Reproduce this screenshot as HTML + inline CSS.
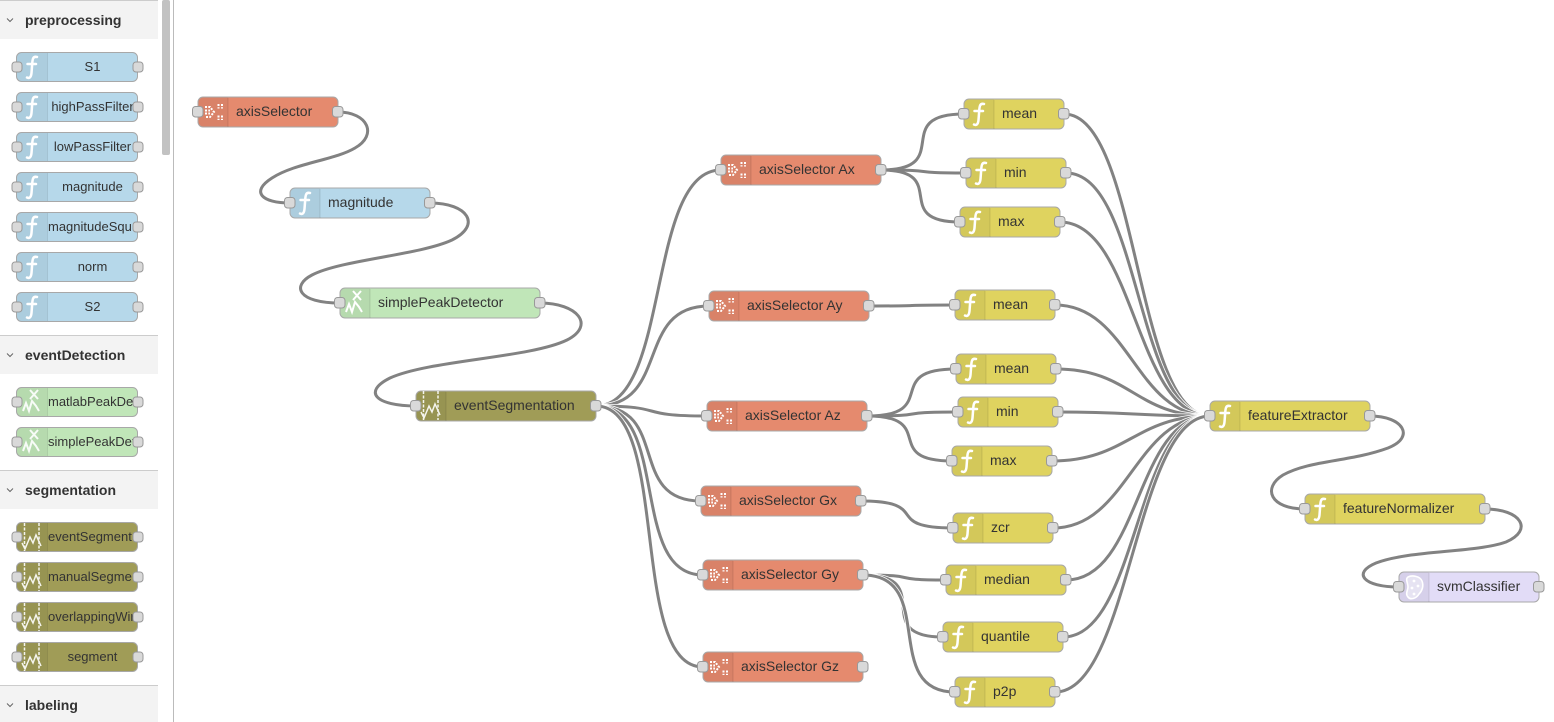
<!DOCTYPE html>
<html><head><meta charset="utf-8"><style>
html,body{margin:0;padding:0;background:#fff;width:1554px;height:722px;overflow:hidden}
svg{display:block;filter:blur(.3px)}
text{font-family:"Liberation Sans",sans-serif;font-size:14px;fill:#333}
.w0{fill:none;stroke:#fff;stroke-width:4.6}
.w{fill:none;stroke:#828282;stroke-width:3}
.n{stroke:#a8a8a8;stroke-width:1}
.d{fill:#000;fill-opacity:.05;stroke:none}
.l{stroke:#000;stroke-opacity:.1;stroke-width:1}
.p{fill:#d9d9d9;stroke:#999;stroke-width:1}
.f{fill:none;stroke:#fff;stroke-width:2.5;stroke-linecap:round}
.i{fill:none;stroke:#fff;stroke-width:2}
.h{font-weight:bold}
.pl{font-size:13px}
</style></head><body>
<svg width="1554" height="722" viewBox="0 0 1554 722" xmlns="http://www.w3.org/2000/svg">
<defs><clipPath id="pc"><rect x="47" y="0" width="85.500" height="722"/></clipPath></defs>

<!-- palette -->
<rect x="0" y="0" width="158" height="39" fill="#f3f3f3"/><rect x="0" y="0" width="158" height="1" fill="#ccc"/>
<rect x="0" y="335" width="158" height="39" fill="#f3f3f3"/><rect x="0" y="335" width="158" height="1" fill="#ccc"/>
<rect x="0" y="470" width="158" height="39" fill="#f3f3f3"/><rect x="0" y="470" width="158" height="1" fill="#ccc"/>
<rect x="0" y="685" width="158" height="37" fill="#f3f3f3"/><rect x="0" y="685" width="158" height="1" fill="#ccc"/>
<rect x="162" y="0" width="8" height="155" rx="2" fill="#c2c2c2"/>
<rect x="173" y="0" width="1" height="722" fill="#bbb"/>
<path d="M7 18.500l3 3 3-3M7 353.500l3 3 3-3M7 488.500l3 3 3-3M7 703.500l3 3 3-3" fill="none" stroke="#666" stroke-width="1"/>
<text class="h" x="25" y="25">preprocessing</text>
<text class="h" x="25" y="360">eventDetection</text>
<text class="h" x="25" y="495">segmentation</text>
<text class="h" x="25" y="710">labeling</text>

<!-- palette node bodies -->
<g fill="#b6d8ea">
<rect class="n" x="16.500" y="52.500" width="121" height="29" rx="5"/>
<rect class="n" x="16.500" y="92.500" width="121" height="29" rx="5"/>
<rect class="n" x="16.500" y="132.500" width="121" height="29" rx="5"/>
<rect class="n" x="16.500" y="172.500" width="121" height="29" rx="5"/>
<rect class="n" x="16.500" y="212.500" width="121" height="29" rx="5"/>
<rect class="n" x="16.500" y="252.500" width="121" height="29" rx="5"/>
<rect class="n" x="16.500" y="292.500" width="121" height="29" rx="5"/>
</g>
<g fill="#c0e6b8">
<rect class="n" x="16.500" y="387.500" width="121" height="29" rx="5"/>
<rect class="n" x="16.500" y="427.500" width="121" height="29" rx="5"/>
</g>
<g fill="#a09c57">
<rect class="n" x="16.500" y="522.500" width="121" height="29" rx="5"/>
<rect class="n" x="16.500" y="562.500" width="121" height="29" rx="5"/>
<rect class="n" x="16.500" y="602.500" width="121" height="29" rx="5"/>
<rect class="n" x="16.500" y="642.500" width="121" height="29" rx="5"/>
</g>
<g>
<path class="d" d="M47 53h-26a4 4 0 0 0-4 4v20a4 4 0 0 0 4 4h26zM47 93h-26a4 4 0 0 0-4 4v20a4 4 0 0 0 4 4h26zM47 133h-26a4 4 0 0 0-4 4v20a4 4 0 0 0 4 4h26zM47 173h-26a4 4 0 0 0-4 4v20a4 4 0 0 0 4 4h26zM47 213h-26a4 4 0 0 0-4 4v20a4 4 0 0 0 4 4h26zM47 253h-26a4 4 0 0 0-4 4v20a4 4 0 0 0 4 4h26zM47 293h-26a4 4 0 0 0-4 4v20a4 4 0 0 0 4 4h26zM47 388h-26a4 4 0 0 0-4 4v20a4 4 0 0 0 4 4h26zM47 428h-26a4 4 0 0 0-4 4v20a4 4 0 0 0 4 4h26zM47 523h-26a4 4 0 0 0-4 4v20a4 4 0 0 0 4 4h26zM47 563h-26a4 4 0 0 0-4 4v20a4 4 0 0 0 4 4h26zM47 603h-26a4 4 0 0 0-4 4v20a4 4 0 0 0 4 4h26zM47 643h-26a4 4 0 0 0-4 4v20a4 4 0 0 0 4 4h26z"/>
</g>
<path class="l" d="M47.500 53v28M47.500 93v28M47.500 133v28M47.500 173v28M47.500 213v28M47.500 253v28M47.500 293v28M47.500 388v28M47.500 428v28M47.500 523v28M47.500 563v28M47.500 603v28M47.500 643v28" fill="none"/>
<!-- palette icons -->
<g class="f">
<path transform="translate(17,67)" d="M20-10C16-11 15.500-8 15.200-3L14.500 6C14 11 12 11.500 10 10.500M10.500-3H19"/>
<path transform="translate(17,107)" d="M20-10C16-11 15.500-8 15.200-3L14.500 6C14 11 12 11.500 10 10.500M10.500-3H19"/>
<path transform="translate(17,147)" d="M20-10C16-11 15.500-8 15.200-3L14.500 6C14 11 12 11.500 10 10.500M10.500-3H19"/>
<path transform="translate(17,187)" d="M20-10C16-11 15.500-8 15.200-3L14.500 6C14 11 12 11.500 10 10.500M10.500-3H19"/>
<path transform="translate(17,227)" d="M20-10C16-11 15.500-8 15.200-3L14.500 6C14 11 12 11.500 10 10.500M10.500-3H19"/>
<path transform="translate(17,267)" d="M20-10C16-11 15.500-8 15.200-3L14.500 6C14 11 12 11.500 10 10.500M10.500-3H19"/>
<path transform="translate(17,307)" d="M20-10C16-11 15.500-8 15.200-3L14.500 6C14 11 12 11.500 10 10.500M10.500-3H19"/>
</g>
<g class="i" opacity=".9">
<path transform="translate(17,402)" d="M6 9L9 1 12 9 15-1 19 4 22 9M13-12L21-3M21-12L13-3"/>
<path transform="translate(17,442)" d="M6 9L9 1 12 9 15-1 19 4 22 9M13-12L21-3M21-12L13-3"/>
</g>
<g fill="none" stroke="#fff" stroke-width="1.500" opacity=".9">
<path transform="translate(17,537)" stroke-dasharray="3 1.500" d="M7.500-14V14M22-14V14"/>
<path transform="translate(17,537)" d="M5 6L8 12 13 0 16 6 19-2 24 9"/>
<path transform="translate(17,577)" stroke-dasharray="3 1.500" d="M7.500-14V14M22-14V14"/>
<path transform="translate(17,577)" d="M5 6L8 12 13 0 16 6 19-2 24 9"/>
<path transform="translate(17,617)" stroke-dasharray="3 1.500" d="M7.500-14V14M22-14V14"/>
<path transform="translate(17,617)" d="M5 6L8 12 13 0 16 6 19-2 24 9"/>
<path transform="translate(17,657)" stroke-dasharray="3 1.500" d="M7.500-14V14M22-14V14"/>
<path transform="translate(17,657)" d="M5 6L8 12 13 0 16 6 19-2 24 9"/>
</g>
<g clip-path="url(#pc)" class="pl">
<text class="pl" x="92.500" y="71" text-anchor="middle">S1</text>
<text class="pl" x="92.500" y="111" text-anchor="middle">highPassFilter</text>
<text class="pl" x="92.500" y="151" text-anchor="middle">lowPassFilter</text>
<text class="pl" x="92.500" y="191" text-anchor="middle">magnitude</text>
<text class="pl" x="48" y="231">magnitudeSquared</text>
<text class="pl" x="92.500" y="271" text-anchor="middle">norm</text>
<text class="pl" x="92.500" y="311" text-anchor="middle">S2</text>
<text class="pl" x="48" y="406">matlabPeakDetector</text>
<text class="pl" x="48" y="446">simplePeakDetector</text>
<text class="pl" x="48" y="541">eventSegmentation</text>
<text class="pl" x="48" y="581">manualSegmentation</text>
<text class="pl" x="48" y="621">overlappingWindows</text>
<text class="pl" x="92.500" y="661" text-anchor="middle">segment</text>
</g>
<g class="p">
<rect x="12" y="62" width="10" height="10" rx="3"/><rect x="133" y="62" width="10" height="10" rx="3"/>
<rect x="12" y="102" width="10" height="10" rx="3"/><rect x="133" y="102" width="10" height="10" rx="3"/>
<rect x="12" y="142" width="10" height="10" rx="3"/><rect x="133" y="142" width="10" height="10" rx="3"/>
<rect x="12" y="182" width="10" height="10" rx="3"/><rect x="133" y="182" width="10" height="10" rx="3"/>
<rect x="12" y="222" width="10" height="10" rx="3"/><rect x="133" y="222" width="10" height="10" rx="3"/>
<rect x="12" y="262" width="10" height="10" rx="3"/><rect x="133" y="262" width="10" height="10" rx="3"/>
<rect x="12" y="302" width="10" height="10" rx="3"/><rect x="133" y="302" width="10" height="10" rx="3"/>
<rect x="12" y="397" width="10" height="10" rx="3"/><rect x="133" y="397" width="10" height="10" rx="3"/>
<rect x="12" y="437" width="10" height="10" rx="3"/><rect x="133" y="437" width="10" height="10" rx="3"/>
<rect x="12" y="532" width="10" height="10" rx="3"/><rect x="133" y="532" width="10" height="10" rx="3"/>
<rect x="12" y="572" width="10" height="10" rx="3"/><rect x="133" y="572" width="10" height="10" rx="3"/>
<rect x="12" y="612" width="10" height="10" rx="3"/><rect x="133" y="612" width="10" height="10" rx="3"/>
<rect x="12" y="652" width="10" height="10" rx="3"/><rect x="133" y="652" width="10" height="10" rx="3"/>
</g>

<!-- wires -->
<path class="w" d="M338 112C368 112 378 135 355 148C335 160 295 163 272 178C250 192 262 203 290 203"/>
<path class="w" d="M430 203C468 203 482 225 452 240C420 255 340 260 312 275C291 286 298 303 340 303"/>
<path class="w" d="M540 303C577 303 596 325 567 340C530 358 430 360 390 378C362 392 376 406 416 406"/>
<path class="w" d="M1370 416C1403 416 1416 437 1388 448C1350 462 1310 460 1283 475C1262 488 1270 509 1305 509"/>
<path class="w" d="M1485 509C1521 509 1534 530 1506 542C1475 553 1410 550 1376 563C1352 573 1363 587 1399 587"/>

<path class="w0" d="M596 406C671 406 646 170 721 170"/><path class="w" d="M596 406C671 406 646 170 721 170"/>
<path class="w0" d="M596 406C671 406 634 306 709 306"/><path class="w" d="M596 406C671 406 634 306 709 306"/>
<path class="w0" d="M596 406C671 406 632 416 707 416"/><path class="w" d="M596 406C671 406 632 416 707 416"/>
<path class="w0" d="M596 406C671 406 626 501 701 501"/><path class="w" d="M596 406C671 406 626 501 701 501"/>
<path class="w0" d="M596 406C671 406 628 575 703 575"/><path class="w" d="M596 406C671 406 628 575 703 575"/>
<path class="w0" d="M596 406C671 406 628 667 703 667"/><path class="w" d="M596 406C671 406 628 667 703 667"/>

<path class="w" d="M881 170C956 170 889 114 964 114"/>
<path class="w" d="M881 170C945 170 902 173 966 173"/>
<path class="w" d="M881 170C952 170 889 222 960 222"/>
<path class="w" d="M869 306C933.500 306 890.500 305 955 305"/>
<path class="w" d="M867 416C942 416 881 369 956 369"/>
<path class="w" d="M867 416C935 416 890 412 958 412"/>
<path class="w" d="M867 416C939 416 880 461 952 461"/>
<path class="w" d="M861 501C933 501 881 528 953 528"/>
<path class="w" d="M863 575C925 575 884 580 946 580"/>
<path class="w0" d="M863 575C938 575 868 637 943 637"/><path class="w" d="M863 575C938 575 868 637 943 637"/>
<path class="w0" d="M863 575C938 575 880 692 955 692"/><path class="w" d="M863 575C938 575 880 692 955 692"/>

<path class="w0" d="M1064 114C1139 114 1135 416 1210 416"/><path class="w" d="M1064 114C1139 114 1135 416 1210 416"/>
<path class="w0" d="M1066 173C1141 173 1135 416 1210 416"/><path class="w" d="M1066 173C1141 173 1135 416 1210 416"/>
<path class="w0" d="M1060 222C1135 222 1135 416 1210 416"/><path class="w" d="M1060 222C1135 222 1135 416 1210 416"/>
<path class="w0" d="M1055 305C1130 305 1135 416 1210 416"/><path class="w" d="M1055 305C1130 305 1135 416 1210 416"/>
<path class="w0" d="M1056 369C1131 369 1135 416 1210 416"/><path class="w" d="M1056 369C1131 369 1135 416 1210 416"/>
<path class="w0" d="M1058 412C1133 412 1135 416 1210 416"/><path class="w" d="M1058 412C1133 412 1135 416 1210 416"/>
<path class="w0" d="M1052 461C1127 461 1135 416 1210 416"/><path class="w" d="M1052 461C1127 461 1135 416 1210 416"/>
<path class="w0" d="M1053 528C1128 528 1135 416 1210 416"/><path class="w" d="M1053 528C1128 528 1135 416 1210 416"/>
<path class="w0" d="M1066 580C1141 580 1135 416 1210 416"/><path class="w" d="M1066 580C1141 580 1135 416 1210 416"/>
<path class="w0" d="M1063 637C1138 637 1135 416 1210 416"/><path class="w" d="M1063 637C1138 637 1135 416 1210 416"/>
<path class="w0" d="M1055 692C1130 692 1135 416 1210 416"/><path class="w" d="M1055 692C1130 692 1135 416 1210 416"/>

<!-- flow nodes -->
<g fill="#e58a6e">
<rect class="n" x="198" y="97" width="140" height="30" rx="5"/>
<rect class="n" x="721" y="155" width="160" height="30" rx="5"/>
<rect class="n" x="709" y="291" width="160" height="30" rx="5"/>
<rect class="n" x="707" y="401" width="160" height="30" rx="5"/>
<rect class="n" x="701" y="486" width="160" height="30" rx="5"/>
<rect class="n" x="703" y="560" width="160" height="30" rx="5"/>
<rect class="n" x="703" y="652" width="160" height="30" rx="5"/>
</g>
<g fill="#b6d8ea"><rect class="n" x="290" y="188" width="140" height="30" rx="5"/></g>
<g fill="#c0e6b8"><rect class="n" x="340" y="288" width="200" height="30" rx="5"/></g>
<g fill="#a09c57"><rect class="n" x="416" y="391" width="180" height="30" rx="5"/></g>
<g fill="#dfd35f">
<rect class="n" x="964" y="99" width="100" height="30" rx="5"/>
<rect class="n" x="966" y="158" width="100" height="30" rx="5"/>
<rect class="n" x="960" y="207" width="100" height="30" rx="5"/>
<rect class="n" x="955" y="290" width="100" height="30" rx="5"/>
<rect class="n" x="956" y="354" width="100" height="30" rx="5"/>
<rect class="n" x="958" y="397" width="100" height="30" rx="5"/>
<rect class="n" x="952" y="446" width="100" height="30" rx="5"/>
<rect class="n" x="953" y="513" width="100" height="30" rx="5"/>
<rect class="n" x="946" y="565" width="120" height="30" rx="5"/>
<rect class="n" x="943" y="622" width="120" height="30" rx="5"/>
<rect class="n" x="955" y="677" width="100" height="30" rx="5"/>
<rect class="n" x="1210" y="401" width="160" height="30" rx="5"/>
<rect class="n" x="1305" y="494" width="180" height="30" rx="5"/>
</g>
<g fill="#e2dcf7"><rect class="n" x="1399" y="572" width="140" height="30" rx="5"/></g>

<!-- icon panels -->
<path class="d" d="M228 97.500h-25a4.500 4.500 0 0 0-4.500 4.500v20a4.500 4.500 0 0 0 4.500 4.500h25zM751 155.500h-25a4.500 4.500 0 0 0-4.500 4.500v20a4.500 4.500 0 0 0 4.500 4.500h25zM739 291.500h-25a4.500 4.500 0 0 0-4.500 4.500v20a4.500 4.500 0 0 0 4.500 4.500h25zM737 401.500h-25a4.500 4.500 0 0 0-4.500 4.500v20a4.500 4.500 0 0 0 4.500 4.500h25zM731 486.500h-25a4.500 4.500 0 0 0-4.500 4.500v20a4.500 4.500 0 0 0 4.500 4.500h25zM733 560.500h-25a4.500 4.500 0 0 0-4.500 4.500v20a4.500 4.500 0 0 0 4.500 4.500h25zM733 652.500h-25a4.500 4.500 0 0 0-4.500 4.500v20a4.500 4.500 0 0 0 4.500 4.500h25zM320 188.500h-25a4.500 4.500 0 0 0-4.500 4.500v20a4.500 4.500 0 0 0 4.500 4.500h25zM370 288.500h-25a4.500 4.500 0 0 0-4.500 4.500v20a4.500 4.500 0 0 0 4.500 4.500h25zM446 391.500h-25a4.500 4.500 0 0 0-4.500 4.500v20a4.500 4.500 0 0 0 4.500 4.500h25zM994 99.500h-25a4.500 4.500 0 0 0-4.500 4.500v20a4.500 4.500 0 0 0 4.500 4.500h25zM996 158.500h-25a4.500 4.500 0 0 0-4.500 4.500v20a4.500 4.500 0 0 0 4.500 4.500h25zM990 207.500h-25a4.500 4.500 0 0 0-4.500 4.500v20a4.500 4.500 0 0 0 4.500 4.500h25zM985 290.500h-25a4.500 4.500 0 0 0-4.500 4.500v20a4.500 4.500 0 0 0 4.500 4.500h25zM986 354.500h-25a4.500 4.500 0 0 0-4.500 4.500v20a4.500 4.500 0 0 0 4.500 4.500h25zM988 397.500h-25a4.500 4.500 0 0 0-4.500 4.500v20a4.500 4.500 0 0 0 4.500 4.500h25zM982 446.500h-25a4.500 4.500 0 0 0-4.500 4.500v20a4.500 4.500 0 0 0 4.500 4.500h25zM983 513.500h-25a4.500 4.500 0 0 0-4.500 4.500v20a4.500 4.500 0 0 0 4.500 4.500h25zM976 565.500h-25a4.500 4.500 0 0 0-4.500 4.500v20a4.500 4.500 0 0 0 4.500 4.500h25zM973 622.500h-25a4.500 4.500 0 0 0-4.500 4.500v20a4.500 4.500 0 0 0 4.500 4.500h25zM985 677.500h-25a4.500 4.500 0 0 0-4.500 4.500v20a4.500 4.500 0 0 0 4.500 4.500h25zM1240 401.500h-25a4.500 4.500 0 0 0-4.500 4.500v20a4.500 4.500 0 0 0 4.500 4.500h25zM1335 494.500h-25a4.500 4.500 0 0 0-4.500 4.500v20a4.500 4.500 0 0 0 4.500 4.500h25zM1429 572.500h-25a4.500 4.500 0 0 0-4.500 4.500v20a4.500 4.500 0 0 0 4.500 4.500h25z"/>
<path class="l" fill="none" d="M228 98v29M751 156v29M739 292v29M737 402v29M731 487v29M733 561v29M733 653v29M320 189v29M370 289v29M446 392v29M994 100v29M996 159v29M990 208v29M985 291v29M986 355v29M988 398v29M982 447v29M983 514v29M976 566v29M973 623v29M985 678v29M1240 402v29M1335 495v29M1429 573v29"/>

<!-- function icons -->
<g class="f">
<path transform="translate(290,203)" d="M20-10C16-11 15.500-8 15.200-3L14.500 6C14 11 12 11.500 10 10.500M10.500-3H19"/>
<path transform="translate(964,114)" d="M20-10C16-11 15.500-8 15.200-3L14.500 6C14 11 12 11.500 10 10.500M10.500-3H19"/>
<path transform="translate(966,173)" d="M20-10C16-11 15.500-8 15.200-3L14.500 6C14 11 12 11.500 10 10.500M10.500-3H19"/>
<path transform="translate(960,222)" d="M20-10C16-11 15.500-8 15.200-3L14.500 6C14 11 12 11.500 10 10.500M10.500-3H19"/>
<path transform="translate(955,305)" d="M20-10C16-11 15.500-8 15.200-3L14.500 6C14 11 12 11.500 10 10.500M10.500-3H19"/>
<path transform="translate(956,369)" d="M20-10C16-11 15.500-8 15.200-3L14.500 6C14 11 12 11.500 10 10.500M10.500-3H19"/>
<path transform="translate(958,412)" d="M20-10C16-11 15.500-8 15.200-3L14.500 6C14 11 12 11.500 10 10.500M10.500-3H19"/>
<path transform="translate(952,461)" d="M20-10C16-11 15.500-8 15.200-3L14.500 6C14 11 12 11.500 10 10.500M10.500-3H19"/>
<path transform="translate(953,528)" d="M20-10C16-11 15.500-8 15.200-3L14.500 6C14 11 12 11.500 10 10.500M10.500-3H19"/>
<path transform="translate(946,580)" d="M20-10C16-11 15.500-8 15.200-3L14.500 6C14 11 12 11.500 10 10.500M10.500-3H19"/>
<path transform="translate(943,637)" d="M20-10C16-11 15.500-8 15.200-3L14.500 6C14 11 12 11.500 10 10.500M10.500-3H19"/>
<path transform="translate(955,692)" d="M20-10C16-11 15.500-8 15.200-3L14.500 6C14 11 12 11.500 10 10.500M10.500-3H19"/>
<path transform="translate(1210,416)" d="M20-10C16-11 15.500-8 15.200-3L14.500 6C14 11 12 11.500 10 10.500M10.500-3H19"/>
<path transform="translate(1305,509)" d="M20-10C16-11 15.500-8 15.200-3L14.500 6C14 11 12 11.500 10 10.500M10.500-3H19"/>
</g>
<!-- selector icons -->
<g fill="none" stroke="#fff" stroke-width="2" stroke-dasharray="2 1.300">
<path transform="translate(198,112)" d="M7-5H12L16 0 12 5H7M7-1.500H12M7 1.500H12M20.500-8V-3.500M20.500 3.500V8M24-8V-3.500M24 3.500V8"/>
<path transform="translate(721,170)" d="M7-5H12L16 0 12 5H7M7-1.500H12M7 1.500H12M20.500-8V-3.500M20.500 3.500V8M24-8V-3.500M24 3.500V8"/>
<path transform="translate(709,306)" d="M7-5H12L16 0 12 5H7M7-1.500H12M7 1.500H12M20.500-8V-3.500M20.500 3.500V8M24-8V-3.500M24 3.500V8"/>
<path transform="translate(707,416)" d="M7-5H12L16 0 12 5H7M7-1.500H12M7 1.500H12M20.500-8V-3.500M20.500 3.500V8M24-8V-3.500M24 3.500V8"/>
<path transform="translate(701,501)" d="M7-5H12L16 0 12 5H7M7-1.500H12M7 1.500H12M20.500-8V-3.500M20.500 3.500V8M24-8V-3.500M24 3.500V8"/>
<path transform="translate(703,575)" d="M7-5H12L16 0 12 5H7M7-1.500H12M7 1.500H12M20.500-8V-3.500M20.500 3.500V8M24-8V-3.500M24 3.500V8"/>
<path transform="translate(703,667)" d="M7-5H12L16 0 12 5H7M7-1.500H12M7 1.500H12M20.500-8V-3.500M20.500 3.500V8M24-8V-3.500M24 3.500V8"/>
</g>
<path class="i" transform="translate(340,303)" d="M6 9L9 1 12 9 15-1 19 4 22 9M13-12L21-3M21-12L13-3"/>
<g fill="none" stroke="#fff" stroke-width="1.500" opacity=".9">
<path transform="translate(416,406)" stroke-dasharray="3 1.500" d="M7.500-15V14M22-15V14"/>
<path transform="translate(416,406)" d="M5 6L8 12 13 0 16 6 19-2 24 9"/>
</g>
<g transform="translate(1399,587)">
<path d="M9-10C13-12 21-11 23-6C25-1 23 4 20 7C17 12 11 13 9 10C6 7 9 3 9 0C9-4 6-8 9-10Z" fill="#fff" fill-opacity=".4" stroke="#fff" stroke-width="1.600"/>
<circle cx="15" cy="-6" r="1.400" fill="#fff"/><circle cx="19" cy="-1" r="1.400" fill="#fff"/><circle cx="13" cy="1" r="1.400" fill="#fff"/><circle cx="15" cy="7" r="1.400" fill="#fff"/>
</g>

<!-- labels -->
<text x="236" y="116">axisSelector</text>
<text x="328" y="207">magnitude</text>
<text x="378" y="307">simplePeakDetector</text>
<text x="454" y="410">eventSegmentation</text>
<text x="759" y="174">axisSelector Ax</text>
<text x="747" y="310">axisSelector Ay</text>
<text x="745" y="420">axisSelector Az</text>
<text x="739" y="505">axisSelector Gx</text>
<text x="741" y="579">axisSelector Gy</text>
<text x="741" y="671">axisSelector Gz</text>
<text x="1002" y="118">mean</text>
<text x="1004" y="177">min</text>
<text x="998" y="226">max</text>
<text x="993" y="309">mean</text>
<text x="994" y="373">mean</text>
<text x="996" y="416">min</text>
<text x="990" y="465">max</text>
<text x="991" y="532">zcr</text>
<text x="984" y="584">median</text>
<text x="981" y="641">quantile</text>
<text x="993" y="696">p2p</text>
<text x="1248" y="420">featureExtractor</text>
<text x="1343" y="513">featureNormalizer</text>
<text x="1437" y="591">svmClassifier</text>

<!-- ports -->
<g class="p">
<rect x="192.500" y="106.500" width="10.500" height="10.500" rx="3"/><rect x="332.500" y="106.500" width="10.500" height="10.500" rx="3"/>
<rect x="284.500" y="197.500" width="10.500" height="10.500" rx="3"/><rect x="424.500" y="197.500" width="10.500" height="10.500" rx="3"/>
<rect x="334.500" y="297.500" width="10.500" height="10.500" rx="3"/><rect x="534.500" y="297.500" width="10.500" height="10.500" rx="3"/>
<rect x="410.500" y="400.500" width="10.500" height="10.500" rx="3"/><rect x="590.500" y="400.500" width="10.500" height="10.500" rx="3"/>
<rect x="715.500" y="164.500" width="10.500" height="10.500" rx="3"/><rect x="875.500" y="164.500" width="10.500" height="10.500" rx="3"/>
<rect x="703.500" y="300.500" width="10.500" height="10.500" rx="3"/><rect x="863.500" y="300.500" width="10.500" height="10.500" rx="3"/>
<rect x="701.500" y="410.500" width="10.500" height="10.500" rx="3"/><rect x="861.500" y="410.500" width="10.500" height="10.500" rx="3"/>
<rect x="695.500" y="495.500" width="10.500" height="10.500" rx="3"/><rect x="855.500" y="495.500" width="10.500" height="10.500" rx="3"/>
<rect x="697.500" y="569.500" width="10.500" height="10.500" rx="3"/><rect x="857.500" y="569.500" width="10.500" height="10.500" rx="3"/>
<rect x="697.500" y="661.500" width="10.500" height="10.500" rx="3"/><rect x="857.500" y="661.500" width="10.500" height="10.500" rx="3"/>
<rect x="958.500" y="108.500" width="10.500" height="10.500" rx="3"/><rect x="1058.500" y="108.500" width="10.500" height="10.500" rx="3"/>
<rect x="960.500" y="167.500" width="10.500" height="10.500" rx="3"/><rect x="1060.500" y="167.500" width="10.500" height="10.500" rx="3"/>
<rect x="954.500" y="216.500" width="10.500" height="10.500" rx="3"/><rect x="1054.500" y="216.500" width="10.500" height="10.500" rx="3"/>
<rect x="949.500" y="299.500" width="10.500" height="10.500" rx="3"/><rect x="1049.500" y="299.500" width="10.500" height="10.500" rx="3"/>
<rect x="950.500" y="363.500" width="10.500" height="10.500" rx="3"/><rect x="1050.500" y="363.500" width="10.500" height="10.500" rx="3"/>
<rect x="952.500" y="406.500" width="10.500" height="10.500" rx="3"/><rect x="1052.500" y="406.500" width="10.500" height="10.500" rx="3"/>
<rect x="946.500" y="455.500" width="10.500" height="10.500" rx="3"/><rect x="1046.500" y="455.500" width="10.500" height="10.500" rx="3"/>
<rect x="947.500" y="522.500" width="10.500" height="10.500" rx="3"/><rect x="1047.500" y="522.500" width="10.500" height="10.500" rx="3"/>
<rect x="940.500" y="574.500" width="10.500" height="10.500" rx="3"/><rect x="1060.500" y="574.500" width="10.500" height="10.500" rx="3"/>
<rect x="937.500" y="631.500" width="10.500" height="10.500" rx="3"/><rect x="1057.500" y="631.500" width="10.500" height="10.500" rx="3"/>
<rect x="949.500" y="686.500" width="10.500" height="10.500" rx="3"/><rect x="1049.500" y="686.500" width="10.500" height="10.500" rx="3"/>
<rect x="1204.500" y="410.500" width="10.500" height="10.500" rx="3"/><rect x="1364.500" y="410.500" width="10.500" height="10.500" rx="3"/>
<rect x="1299.500" y="503.500" width="10.500" height="10.500" rx="3"/><rect x="1479.500" y="503.500" width="10.500" height="10.500" rx="3"/>
<rect x="1393.500" y="581.500" width="10.500" height="10.500" rx="3"/><rect x="1533.500" y="581.500" width="10.500" height="10.500" rx="3"/>
</g>
</svg>
</body></html>
